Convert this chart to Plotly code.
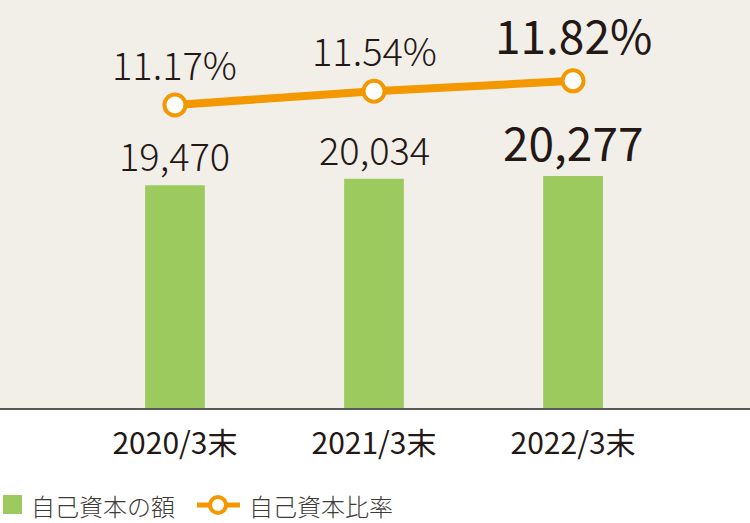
import plotly.graph_objects as go

categories = ['2020/3末', '2021/3末', '2022/3末']
equity = [19470, 20034, 20277]
equity_text = ['19,470', '20,034', '20,277']
ratio = [11.17, 11.54, 11.82]
ratio_text = ['11.17%', '11.54%', '11.82%']
legend_names = ['自己資本の額', '自己資本比率']

GREEN = '#9cca5e'
ORANGE = '#f39800'
TEXT = '#231815'
BG = '#f2efe9'
FONT = 'Noto Sans CJK JP'

W, H, B = 750, 523, 115
PH = H - B  # plot height in px


def px(x):
    return x / W


def py(y):
    return (PH - y) / PH


fig = go.Figure()

fig.add_trace(go.Bar(
    x=categories, y=equity, name=legend_names[0],
    marker=dict(color=GREEN, line=dict(width=0)),
    width=0.3, hoverinfo='skip',
))
fig.add_trace(go.Scatter(
    x=categories, y=ratio, name=legend_names[1], yaxis='y2',
    mode='lines+markers',
    line=dict(color=ORANGE, width=8),
    marker=dict(size=21, color='white', line=dict(color=ORANGE, width=4)),
    hoverinfo='skip',
))

annotations = []
for i, c in enumerate(categories):
    big = i == len(categories) - 1
    font = dict(family=FONT, size=46 if big else 38, color=TEXT,
                weight=400 if big else 300)
    annotations.append(dict(
        x=c, y=equity[i], text=equity_text[i], xref='x', yref='y',
        yanchor='bottom', yshift=0 if big else 1, showarrow=False, font=font,
    ))
    annotations.append(dict(
        x=c, y=ratio[i], text=ratio_text[i], xref='x', yref='y2',
        yanchor='bottom', yshift=12, showarrow=False, font=font,
    ))

# hand-drawn legend below the axis
legend_font = dict(family=FONT, size=24, color='#3e3a39', weight=300)
annotations.append(dict(x=px(29), y=py(505), xref='paper', yref='paper',
                        text=legend_names[0], xanchor='left', yanchor='middle',
                        showarrow=False, font=legend_font))
annotations.append(dict(x=px(247), y=py(505), xref='paper', yref='paper',
                        text=legend_names[1], xanchor='left', yanchor='middle',
                        showarrow=False, font=legend_font))
shapes = [
    dict(type='rect', xref='paper', yref='paper',
         x0=px(3), x1=px(22), y0=py(495), y1=py(514),
         fillcolor=GREEN, line=dict(width=0)),
    dict(type='line', xref='paper', yref='paper',
         x0=px(197), x1=px(240), y0=py(505), y1=py(505),
         line=dict(color=ORANGE, width=5)),
    dict(type='circle', xref='paper', yref='paper',
         x0=px(210), x1=px(226), y0=py(497), y1=py(513),
         fillcolor='white', line=dict(color=ORANGE, width=4)),
]

fig.update_layout(
    width=W, height=H,
    margin=dict(l=0, r=0, t=0, b=B),
    paper_bgcolor='white', plot_bgcolor=BG,
    font=dict(family=FONT, color=TEXT),
    showlegend=False,
    xaxis=dict(
        range=[-0.879, 2.889], showgrid=False, showline=True,
        linecolor='#595757', linewidth=1.5, ticks='',
        tickfont=dict(size=30, color=TEXT), ticklabelstandoff=8,
        fixedrange=True,
    ),
    yaxis=dict(range=[0, 35650], visible=False, showgrid=False),
    yaxis2=dict(range=[3, 14], visible=False, showgrid=False,
                overlaying='y', side='right'),
    annotations=annotations,
    shapes=shapes,
)

fig.write_html('out.html', config={'displayModeBar': False},
               post_script="document.body.style.margin='0';")
